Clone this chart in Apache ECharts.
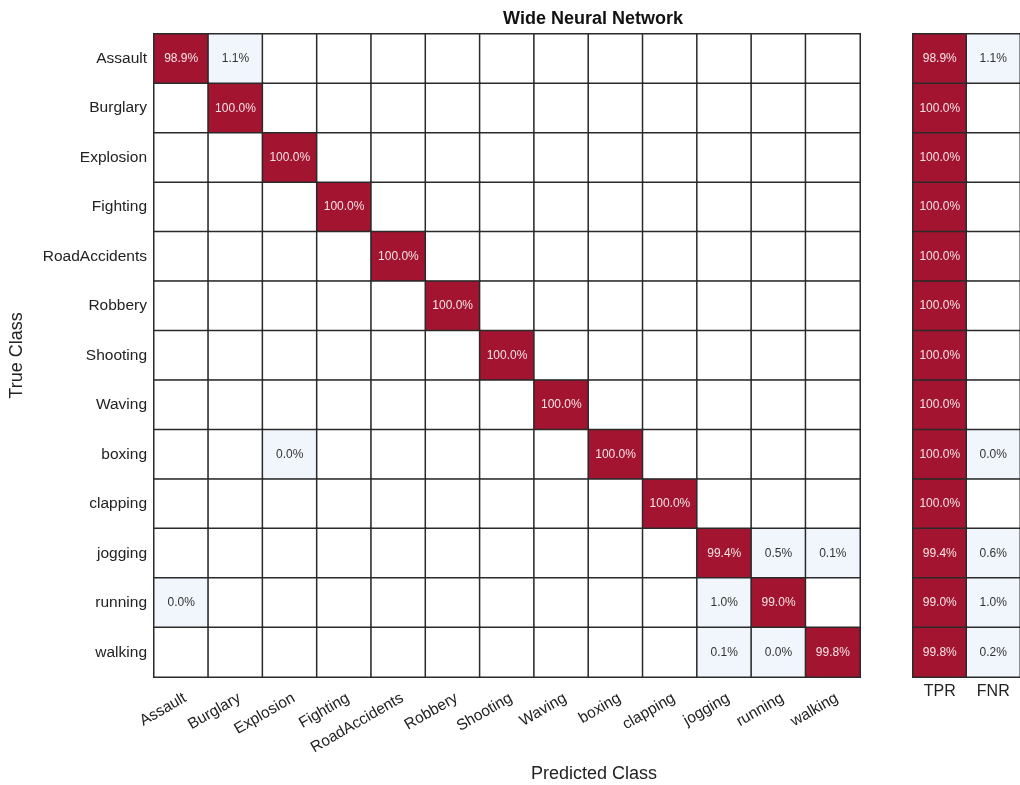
<!DOCTYPE html>
<html>
<head>
<meta charset="utf-8">
<script src="https://cdn.jsdelivr.net/npm/echarts@6/dist/echarts.min.js"></script>
<style>
  html, body { margin: 0; padding: 0; background: #fff; }
  #chart { width: 1020px; height: 785px; }
</style>
</head>
<body>
<div id="chart"></div>
<script>
// Class names (rows = true class, columns = predicted class)
const classes = ['Assault', 'Burglary', 'Explosion', 'Fighting', 'RoadAccidents', 'Robbery',
  'Shooting', 'Waving', 'boxing', 'clapping', 'jogging', 'running', 'walking'];

// Row-normalised confusion matrix in percent; null = empty cell
const matrix = [
  [98.9, 1.1, null, null, null, null, null, null, null, null, null, null, null],
  [null, 100.0, null, null, null, null, null, null, null, null, null, null, null],
  [null, null, 100.0, null, null, null, null, null, null, null, null, null, null],
  [null, null, null, 100.0, null, null, null, null, null, null, null, null, null],
  [null, null, null, null, 100.0, null, null, null, null, null, null, null, null],
  [null, null, null, null, null, 100.0, null, null, null, null, null, null, null],
  [null, null, null, null, null, null, 100.0, null, null, null, null, null, null],
  [null, null, null, null, null, null, null, 100.0, null, null, null, null, null],
  [null, null, 0.0, null, null, null, null, null, 100.0, null, null, null, null],
  [null, null, null, null, null, null, null, null, null, 100.0, null, null, null],
  [null, null, null, null, null, null, null, null, null, null, 99.4, 0.5, 0.1],
  [0.0, null, null, null, null, null, null, null, null, null, 1.0, 99.0, null],
  [null, null, null, null, null, null, null, null, null, null, 0.1, 0.0, 99.8]
];

// Per-class true positive rate and false negative rate (percent); null = empty
const summaryCols = ['TPR', 'FNR'];
const tpr = [98.9, 100.0, 100.0, 100.0, 100.0, 100.0, 100.0, 100.0, 100.0, 100.0, 99.4, 99.0, 99.8];
const fnr = [1.1, null, null, null, null, null, null, null, 0.0, null, 0.6, 1.0, 0.2];

const RED = '#A2142F';
const LIGHT = '#F0F6FB';
const LINE = '#2a2a2a';
const FONT = '"Liberation Sans", Arial, sans-serif';

function cell(x, y, v, strong) {
  const empty = v === null;
  return {
    value: [x, y, empty ? 0 : v],
    itemStyle: { color: empty ? '#ffffff' : (strong ? RED : LIGHT), borderColor: LINE, borderWidth: 1.5 },
    label: {
      show: !empty,
      formatter: empty ? '' : v.toFixed(1) + '%',
      color: strong ? '#F6E4E6' : '#333333',
      fontSize: 12,
      fontFamily: FONT
    }
  };
}

const mainData = [];
matrix.forEach((row, r) => row.forEach((v, c) => mainData.push(cell(c, r, v, r === c))));

const sideData = [];
classes.forEach((_, r) => {
  sideData.push(cell(0, r, tpr[r], true));
  sideData.push(cell(1, r, fnr[r], false));
});

const chart = echarts.init(document.getElementById('chart'), null, { renderer: 'canvas' });
chart.setOption({
  backgroundColor: '#ffffff',
  animation: false,
  title: [
    {
      text: 'Wide Neural Network',
      left: 588, top: 5, textAlign: 'center',
      textStyle: { fontFamily: FONT, fontSize: 18, fontWeight: 'bold', color: '#111' }
    },
    {
      text: 'Predicted Class',
      left: 589, top: 760, textAlign: 'center',
      textStyle: { fontFamily: FONT, fontSize: 18, fontWeight: 'normal', color: '#222' }
    }
  ],
  grid: [
    { left: 154, top: 34, width: 706, height: 643 },
    { left: 913, top: 34, width: 110, height: 643 }
  ],
  xAxis: [
    {
      gridIndex: 0, type: 'category', data: classes, position: 'bottom',
      axisLine: { show: false }, axisTick: { show: false }, splitLine: { show: false },
      axisLabel: { rotate: 30, margin: 13, verticalAlign: 'top', fontFamily: FONT, fontSize: 15.5, color: '#222', interval: 0 }
    },
    {
      gridIndex: 1, type: 'category', data: summaryCols, position: 'bottom',
      axisLine: { show: false }, axisTick: { show: false }, splitLine: { show: false },
      axisLabel: { margin: 7, fontFamily: FONT, fontSize: 16, color: '#222', interval: 0 }
    }
  ],
  yAxis: [
    {
      gridIndex: 0, type: 'category', data: classes, inverse: true,
      name: 'True Class', nameLocation: 'middle', nameGap: 128, nameRotate: 90,
      nameTextStyle: { fontFamily: FONT, fontSize: 18, color: '#222' },
      axisLine: { show: false }, axisTick: { show: false }, splitLine: { show: false },
      axisLabel: { margin: 7, fontFamily: FONT, fontSize: 15.5, color: '#222', interval: 0 }
    },
    {
      gridIndex: 1, type: 'category', data: classes, inverse: true,
      axisLine: { show: false }, axisTick: { show: false }, splitLine: { show: false },
      axisLabel: { show: false }
    }
  ],
  series: [
    { type: 'heatmap', xAxisIndex: 0, yAxisIndex: 0, data: mainData, emphasis: { disabled: true } },
    { type: 'heatmap', xAxisIndex: 1, yAxisIndex: 1, data: sideData, emphasis: { disabled: true } }
  ]
});
</script>
</body>
</html>
